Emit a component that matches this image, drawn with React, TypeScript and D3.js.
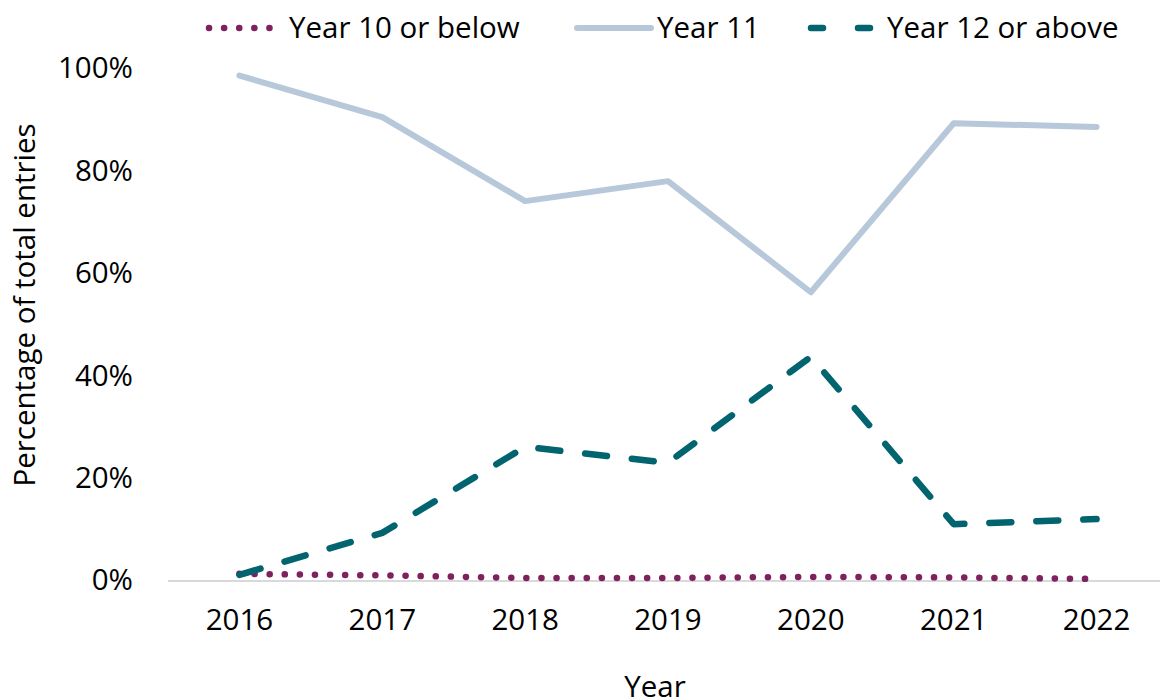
import { useEffect, useRef } from 'react'
import * as d3 from 'd3'

const years = ['2016', '2017', '2018', '2019', '2020', '2021', '2022']
const year10 = [1.2, 0.9, 0.4, 0.4, 0.6, 0.5, 0.2]
const year11 = [98.5, 90.4, 74.0, 77.9, 56.2, 89.2, 88.5]
const year12 = [1.0, 9.2, 26.0, 22.9, 43.6, 10.9, 11.9]
const yTicks = [0, 20, 40, 60, 80, 100]

const series = [
  { name: 'Year 10 or below', values: year10, color: '#80215f', dash: '0.1 15', width: 6.5 },
  { name: 'Year 11', values: year11, color: '#b6c8d9', dash: null, width: 6 },
  { name: 'Year 12 or above', values: year12, color: '#01646f', dash: '22 25', width: 6.5 },
]

export default function App() {
  const ref = useRef<SVGSVGElement>(null)

  useEffect(() => {
    const width = 1168, height = 700
    const margin = { top: 68, right: 0, bottom: 120, left: 168 }
    const font = '"Open Sans", sans-serif'
    const fs = 29.5

    const svg = d3.select(ref.current)
    svg.selectAll('*').remove()

    const x = d3.scaleBand().domain(years).range([margin.left, width - margin.right])
    const y = d3.scaleLinear().domain([0, 100]).range([580, 68])

    // baseline
    svg.append('line')
      .attr('x1', margin.left).attr('x2', width)
      .attr('y1', y(0) + 1).attr('y2', y(0) + 1)
      .attr('stroke', '#d9d9d9').attr('stroke-width', 2)

    // y tick labels
    svg.selectAll('.ytick')
      .data(yTicks)
      .enter()
      .append('text')
      .attr('x', 133)
      .attr('y', d => y(d))
      .attr('dy', '0.35em')
      .attr('text-anchor', 'end')
      .attr('font-family', font)
      .attr('font-size', fs)
      .attr('fill', '#000')
      .text(d => d + '%')

    // x tick labels
    svg.selectAll('.xtick')
      .data(years)
      .enter()
      .append('text')
      .attr('x', d => x(d)! + x.bandwidth() / 2)
      .attr('y', 630)
      .attr('text-anchor', 'middle')
      .attr('font-family', font)
      .attr('font-size', fs)
      .attr('fill', '#000')
      .text(d => d)

    // axis titles
    svg.append('text')
      .attr('x', 655).attr('y', 697)
      .attr('text-anchor', 'middle')
      .attr('font-family', font).attr('font-size', fs)
      .text('Year')

    svg.append('text')
      .attr('transform', 'translate(35,305) rotate(-90)')
      .attr('text-anchor', 'middle')
      .attr('font-family', font).attr('font-size', fs)
      .text('Percentage of total entries')

    const line = d3.line<number>()
      .x((_, i) => x(years[i])! + x.bandwidth() / 2)
      .y(d => y(d))

    series.forEach(s => {
      const p = svg.append('path')
        .datum(s.values)
        .attr('d', line)
        .attr('fill', 'none')
        .attr('stroke', s.color)
        .attr('stroke-width', s.width)
        .attr('stroke-linecap', 'round')
        .attr('stroke-linejoin', 'round')
      if (s.dash) p.attr('stroke-dasharray', s.dash)
    })

    // legend
    const legendX = [209, 577, 811]
    series.forEach((s, i) => {
      const g = svg.append('g').attr('transform', `translate(${legendX[i]},28)`)
      const l = g.append('line')
        .attr('x1', 0).attr('x2', s.dash === '22 25' ? 72 : s.dash ? 66 : 74)
        .attr('y1', 0).attr('y2', 0)
        .attr('stroke', s.color)
        .attr('stroke-width', s.width)
        .attr('stroke-linecap', 'round')
      if (s.dash === '22 25') l.attr('stroke-dasharray', '12 35')
      else if (s.dash) l.attr('stroke-dasharray', s.dash)
      g.append('text')
        .attr('x', s.dash === '22 25' ? 76 : 80)
        .attr('dy', '0.35em')
        .attr('font-family', font)
        .attr('font-size', fs)
        .text(s.name)
    })
  }, [])

  return (
    <div>
      <svg ref={ref} width={1168} height={700} style={{ display: 'block', marginTop: -8, marginLeft: -8 }} />
    </div>
  )
}
